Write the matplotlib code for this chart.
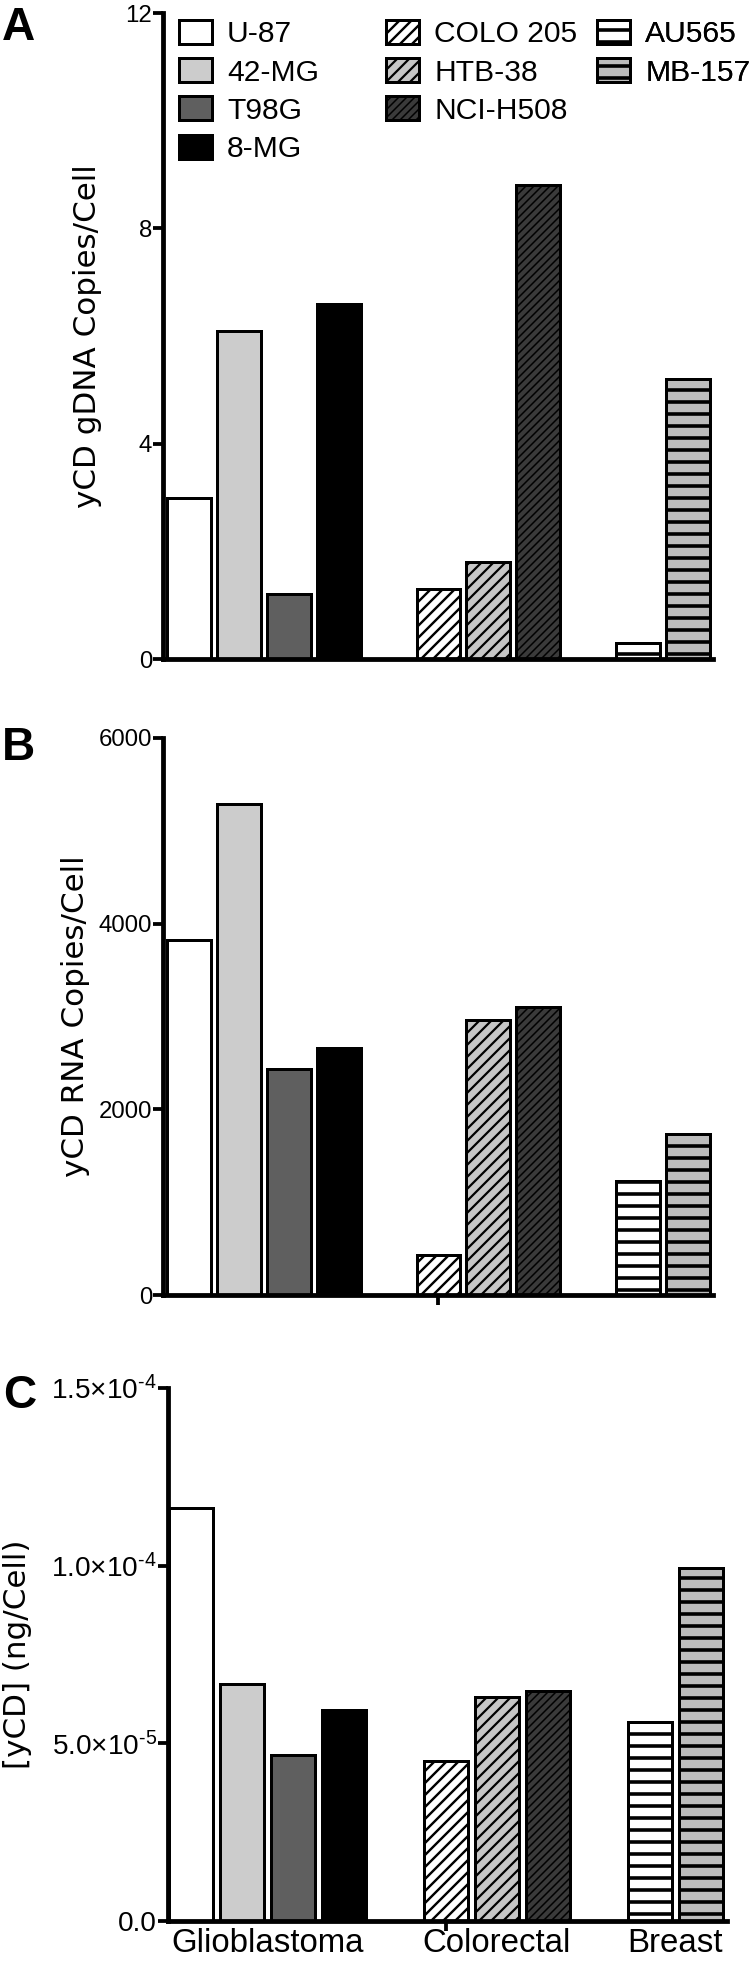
import matplotlib
matplotlib.use("Agg")
import matplotlib.pyplot as plt

plt.rcParams['font.family'] = ['Liberation Sans', 'DejaVu Sans']
plt.rcParams['mathtext.default'] = 'regular'
plt.rcParams['hatch.linewidth'] = 2.2

# ---------------- data ----------------
cell_lines = ['U-87', '42-MG', 'T98G', '8-MG', 'COLO 205', 'HTB-38', 'NCI-H508', 'AU565', 'MB-157']
tumor_types = ['Glioblastoma', 'Colorectal', 'Breast']
group_index = [0, 0, 0, 0, 1, 1, 1, 2, 2]

gdna_copies = [3.0, 6.1, 1.2, 6.6, 1.3, 1.8, 8.8, 0.3, 5.2]
rna_copies = [3820, 5290, 2430, 2660, 430, 2960, 3100, 1230, 1730]
ycd_ng_per_cell = [1.162e-4, 6.66e-5, 4.68e-5, 5.93e-5, 4.49e-5, 6.30e-5, 6.47e-5, 5.61e-5, 9.94e-5]

yticks_a = [0, 4, 8, 12]
ytick_labels_a = ['0', '4', '8', '12']
yticks_b = [0, 2000, 4000, 6000]
ytick_labels_b = ['0', '2000', '4000', '6000']
yticks_c = [0, 5e-5, 1e-4, 1.5e-4]
ytick_labels_c = ['0.0', '5.0×10$^{\u2010 5}$', '1.0×10$^{\u2010 4}$', '1.5×10$^{\u2010 4}$']

ylabels = ['yCD gDNA Copies/Cell', 'yCD RNA Copies/Cell', '[yCD] (ng/Cell)']
panel_letters = ['A', 'B', 'C']

# ---------------- styles ----------------
fills = ['white', '#cccccc', '#5f5f5f', 'black', 'white', '#c6c6c6', '#3a3a3a', 'white', '#bdbdbd']
hatches = [None, None, None, None, '//', '//', '///', '-', '-']
hatch_lws = [2.2, 2.2, 2.2, 2.2, 2.4, 2.2, 1.5, 3.6, 3.6]

W, H, DPI = 750, 1961, 72
fig = plt.figure(figsize=(W / DPI, H / DPI), dpi=DPI)


def add_axes_px(left, top, right, bottom):
    return fig.add_axes([left / W, 1 - bottom / H, (right - left) / W, (bottom - top) / H])


positions = [i + g for i, g in enumerate(group_index)]
group_centers = []
for g in range(len(tumor_types)):
    p = [positions[i] for i in range(len(positions)) if group_index[i] == g]
    group_centers.append(sum(p) / len(p))
first_colorectal = positions[group_index.index(1)]

axes_px = [(163, 13, 713, 659), (163, 738, 713, 1295), (168, 1388, 727, 1921)]
xlims = [(-0.52, 10.5), (-0.52, 10.5), (-0.45, 10.51)]
datasets = [gdna_copies, rna_copies, ycd_ng_per_cell]
ytick_sets = [(yticks_a, ytick_labels_a), (yticks_b, ytick_labels_b), (yticks_c, ytick_labels_c)]
ylabel_x = [-0.138, -0.16, -0.27]
ytick_fs = [24, 24, 28]
letter_pos = [(2, 40), (2, 760), (3, 1408)]

axes = []
for k in range(3):
    ax = add_axes_px(*axes_px[k])
    axes.append(ax)
    handles = []
    for i, name in enumerate(cell_lines):
        with plt.rc_context({'hatch.linewidth': hatch_lws[i]}):
            bc = ax.bar(positions[i], datasets[k][i], width=0.88, color=fills[i],
                        edgecolor='black', linewidth=3.0, hatch=hatches[i], label=name)
        for p in bc.patches:
            if hasattr(p, 'set_hatch_linewidth'):
                p.set_hatch_linewidth(hatch_lws[i])
        handles.append(bc)
    ticks, labels = ytick_sets[k]
    ax.set_ylim(ticks[0], ticks[-1])
    ax.set_xlim(*xlims[k])
    ax.set_yticks(ticks)
    ax.set_yticklabels(labels)
    for s in ['top', 'right']:
        ax.spines[s].set_visible(False)
    for s in ['left', 'bottom']:
        ax.spines[s].set_linewidth(4.8)
    ax.tick_params(axis='y', length=10, width=3.8, pad=1, labelsize=ytick_fs[k], direction='out')
    ax.set_ylabel(ylabels[k], fontsize=31, family=['DejaVu Sans'], va='center')
    ax.yaxis.set_label_coords(ylabel_x[k], 0.5)

    if k == 2:
        ax.set_xticks(group_centers)
        ax.set_xticklabels(tumor_types)
        ax.tick_params(axis='x', which='major', length=0, pad=7, labelsize=33)
    else:
        ax.set_xticks([])
    if k >= 1:
        ax.set_xticks([first_colorectal], minor=True)
        ax.tick_params(axis='x', which='minor', length=10, width=3.8, direction='out')

    fig.text(letter_pos[k][0] / W, 1 - letter_pos[k][1] / H, panel_letters[k],
             fontsize=46, fontweight='bold', ha='left', va='baseline')

    if k == 0:
        legend_groups = [[0, 1, 2, 3], [4, 5, 6], [7, 8]]
        legend_x = [179, 386, 597]
        for gi, idxs in enumerate(legend_groups):
            leg = ax.legend([handles[i] for i in idxs], [cell_lines[i] for i in idxs],
                            loc='upper left', bbox_to_anchor=(legend_x[gi] / W, 1 - 20 / H),
                            bbox_transform=fig.transFigure, frameon=False, fontsize=30,
                            borderpad=0, borderaxespad=0, handlelength=1.1,
                            handleheight=0.85, handletextpad=0.5, labelspacing=0.33)
            for j, h in enumerate(leg.legend_handles):
                if hasattr(h, 'set_hatch_linewidth'):
                    h.set_hatch_linewidth(hatch_lws[idxs[j]])
            ax.add_artist(leg)

fig.savefig('out.png', dpi=DPI)
